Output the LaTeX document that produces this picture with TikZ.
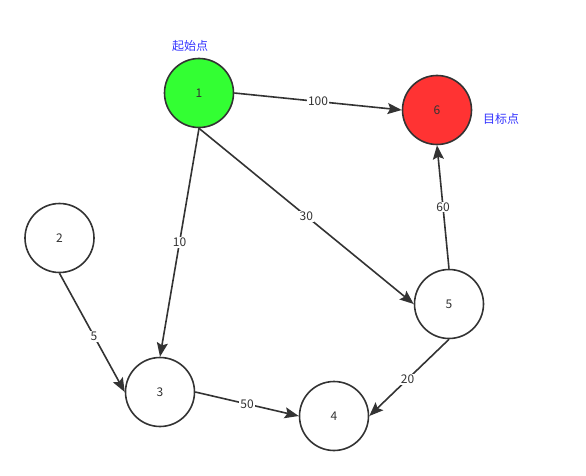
\documentclass[tikz,border=0pt]{standalone}
\usepackage{fontspec}
\setmainfont{Noto Sans CJK SC}
\usetikzlibrary{arrows.meta}
\definecolor{edgec}{HTML}{333333}
\definecolor{greenc}{HTML}{33FF33}
\definecolor{redc}{HTML}{FF3333}
\definecolor{bluec}{HTML}{3333FF}
\begin{document}
\begin{tikzpicture}[x=1pt,y=-1pt,
  vtx/.style={circle,draw=edgec,line width=1.6pt,minimum size=69pt,inner sep=0pt,font=\fontsize{12}{14}\selectfont,text=edgec},
  arr/.style={draw=edgec,line width=1.6pt,-{Stealth[length=14pt,width=11pt,inset=2.5pt]}},
  lbl/.style={fill=white,inner sep=1pt,font=\fontsize{12}{14}\selectfont,text=edgec},
  note/.style={font=\fontsize{12}{14}\selectfont,text=bluec}]
\useasboundingbox (0,0) rectangle (586,476);
\node[vtx,fill=greenc] (n1) at (199,93) {1};
\node[vtx,fill=redc] (n6) at (437,110) {6};
\node[vtx,fill=white] (n2) at (59.5,238) {2};
\node[vtx,fill=white] (n5) at (449,304) {5};
\node[vtx,fill=white] (n3) at (160,392) {3};
\node[vtx,fill=white] (n4) at (334,416) {4};
\node[note] (t1) at (190,46) {起始点};
\node[note] (t6) at (501,119) {目标点};
\draw[arr] (n1.east) -- node[lbl] (l100) {100} (n6.west);
\draw[arr] (n1.south) -- node[lbl] (l10) {10} (n3.north);
\draw[arr] (n1.south) -- node[lbl] (l30) {30} (n5.west);
\draw[arr] (n5.north) -- node[lbl] (l60) {60} (n6.south);
\draw[arr] (n2.south) -- node[lbl,pos=0.53] (l5) {5} (n3.west);
\draw[arr] (n5.south) -- node[lbl,pos=0.52] (l20) {20} (n4.east);
\draw[arr] (n3.east) -- node[lbl] (l50) {50} (n4.west);
\end{tikzpicture}
\end{document}
